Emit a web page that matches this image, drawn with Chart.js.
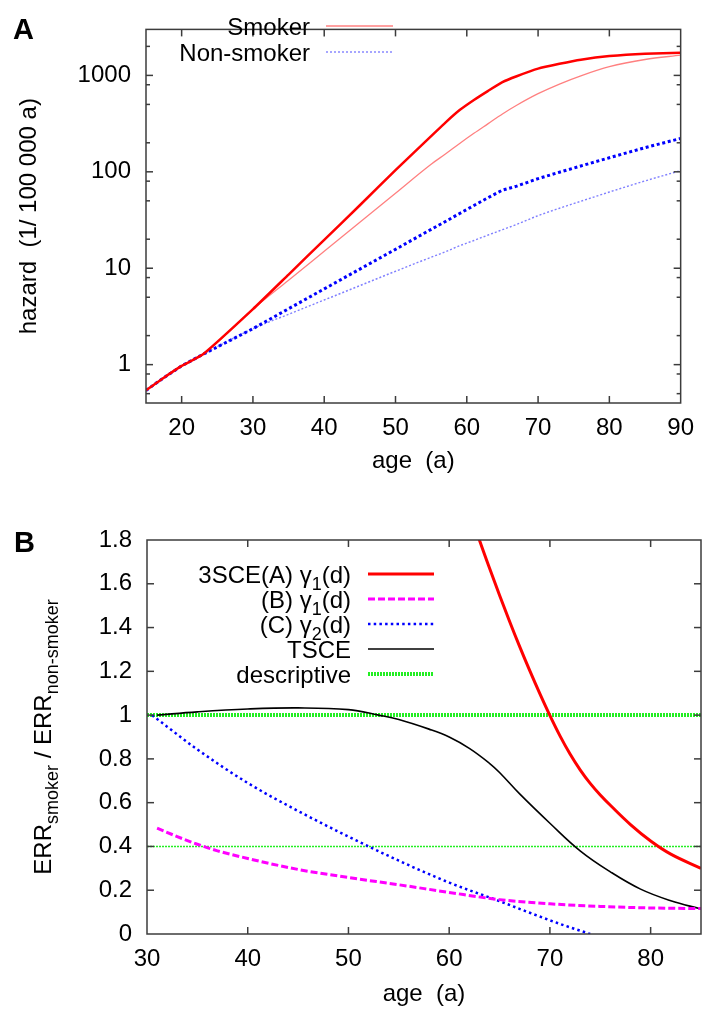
<!DOCTYPE html>
<html>
<head>
<meta charset="utf-8">
<script src="https://cdn.jsdelivr.net/npm/chart.js@4.4.0/dist/chart.umd.min.js"></script>
<style>
  html, body { margin: 0; padding: 0; background: #fff; }
  #wrapA { position: absolute; left: 0; top: 0; width: 705px; height: 490px; }
  #wrapB { position: absolute; left: 0; top: 490px; width: 705px; height: 522px; }
</style>
</head>
<body>
<div id="wrapA"><canvas id="chartA" width="705" height="490"></canvas></div>
<div id="wrapB"><canvas id="chartB" width="705" height="522"></canvas></div>
<script>
// ---- panel A: hazard vs age (log axis) ----
const ageA = [15, 17, 20, 23, 30, 35, 40, 45, 50, 55, 57, 59, 61, 63, 65, 67, 70, 73, 76, 80, 85, 90];
const smokerThick = [0.54, 0.69, 0.97, 1.28, 3.76, 8.6, 19.7, 45, 104, 234, 324, 437, 556, 692, 851, 980, 1175, 1318, 1455, 1585, 1680, 1720];
const smokerThin = [0.54, 0.69, 0.97, 1.28, 3.76, 7.5, 15, 30, 60, 120, 153, 197, 251, 316, 398, 490, 646, 813, 989, 1230, 1462, 1622];
const nonSmokerThick = [0.54, 0.69, 0.97, 1.28, 2.36, 3.8, 6.1, 9.8, 15.7, 25.3, 30.5, 37, 44.7, 54, 64.6, 71, 85, 99, 115, 140, 178, 222];
const nonSmokerThin = [0.54, 0.69, 0.97, 1.28, 2.36, 3.33, 4.68, 6.6, 9.3, 13, 14.8, 17.1, 19.4, 22.1, 25.1, 28.5, 35.1, 41.9, 49.5, 61.7, 80.4, 103];
const xTicksA = [20, 30, 40, 50, 60, 70, 80, 90];
const yTicksA = [1, 10, 100, 1000];
const yMinorA = [0.5, 0.8, 2, 5, 8, 20, 50, 80, 200, 500, 800, 2000];
const keyA = ['Smoker', 'Non-smoker'];

// ---- panel B: ERR ratio vs age ----
const ageRed = [62, 63, 64, 65, 66, 67, 68, 69, 70, 71, 72, 73, 74, 75, 76, 78, 80, 82, 85];
const sce3A = [1.935, 1.80, 1.672, 1.548, 1.428, 1.313, 1.203, 1.098, 0.998, 0.905, 0.822, 0.75, 0.688, 0.635, 0.588, 0.50, 0.425, 0.365, 0.30];
const ageMag = [31, 33, 35, 37, 40, 45, 50, 55, 60, 65, 70, 75, 80, 85];
const sceB = [0.484, 0.445, 0.41, 0.38, 0.345, 0.295, 0.258, 0.225, 0.19, 0.157, 0.138, 0.126, 0.119, 0.116];
const ageBlue = [30.5, 32, 35, 40, 45, 50, 55, 60, 65, 68, 71, 74];
const sceC = [1.0, 0.947, 0.843, 0.69, 0.562, 0.445, 0.335, 0.235, 0.15, 0.097, 0.046, 0.0];
const ageTsce = [31, 35, 40, 45, 50, 53, 55, 58, 60, 62, 64, 65, 67, 70, 73, 76, 79, 82, 85];
const tsce = [1.0, 1.015, 1.028, 1.033, 1.025, 1.0, 0.98, 0.936, 0.9, 0.848, 0.78, 0.738, 0.64, 0.506, 0.38, 0.284, 0.205, 0.152, 0.114];
const ageDesc = [30, 85];
const descHigh = [1, 1];
const descLow = [0.4, 0.4];
const xTicksB = [30, 40, 50, 60, 70, 80];
const yTicksB = [0, 0.2, 0.4, 0.6, 0.8, 1, 1.2, 1.4, 1.6, 1.8];
const keyB = ['3SCE(A) γ_1(d)', '(B) γ_1(d)', '(C) γ_2(d)', 'TSCE', 'descriptive'];

const FONT = '"Liberation Sans", Arial, Helvetica, sans-serif';
Chart.defaults.font.family = FONT;
Chart.defaults.font.size = 24;
Chart.defaults.color = '#000';

function pts(xs, ys) {
  return xs.map((x, i) => ({ x: x, y: ys[i] }));
}

// gnuplot-ish "_x" / "_{xyz}" subscripts
function parseRich(s) {
  const out = [];
  let last = 0;
  s.replace(/_\{([^}]*)\}|_(.)/g, (m, a, b, idx) => {
    if (idx > last) out.push({ t: s.slice(last, idx) });
    out.push({ t: a !== undefined ? a : b, sub: true });
    last = idx + m.length;
    return m;
  });
  if (last < s.length) out.push({ t: s.slice(last) });
  return out;
}
function richWidth(ctx, parts, size) {
  let w = 0;
  parts.forEach(p => {
    ctx.font = (p.sub ? Math.round(size * 0.75) : size) + 'px ' + FONT;
    w += ctx.measureText(p.t).width;
  });
  return w;
}
function drawRich(ctx, parts, x, y, size) {
  parts.forEach(p => {
    ctx.font = (p.sub ? Math.round(size * 0.75) : size) + 'px ' + FONT;
    ctx.fillText(p.t, x, y + (p.sub ? 7 : 0));
    x += ctx.measureText(p.t).width;
  });
}

const frame = {
  id: 'frame',
  afterDraw(chart, args, o) {
    const { ctx, chartArea: a } = chart;
    const xs = chart.scales.x, ys = chart.scales.y;
    ctx.save();
    ctx.strokeStyle = '#3c3c3c';
    ctx.lineWidth = 1.5;
    const seg = (x0, y0, x1, y1) => { ctx.beginPath(); ctx.moveTo(x0, y0); ctx.lineTo(x1, y1); ctx.stroke(); };
    o.xMajor.forEach(v => {
      const p = xs.getPixelForValue(v);
      seg(p, a.bottom, p, a.bottom - 7);
      seg(p, a.top, p, a.top + 7);
    });
    o.yMajor.forEach(v => {
      const p = ys.getPixelForValue(v);
      seg(a.left, p, a.left + 7, p);
      seg(a.right, p, a.right - 7, p);
    });
    (o.yMinor || []).forEach(v => {
      const p = ys.getPixelForValue(v);
      seg(a.left, p, a.left + 4, p);
      seg(a.right, p, a.right - 4, p);
    });
    ctx.strokeRect(a.left, a.top, a.right - a.left, a.bottom - a.top);

    // key, gnuplot style: text right aligned, sample to the right
    ctx.fillStyle = '#000';
    ctx.textBaseline = 'alphabetic';
    ctx.textAlign = 'left';
    o.key.forEach((k, i) => {
      const y = o.keyY + i * o.keyStep;
      const parts = parseRich(k.text);
      drawRich(ctx, parts, o.keyTextRight - richWidth(ctx, parts, 24), y + 8.5, 24);
      ctx.save();
      ctx.strokeStyle = k.color;
      ctx.lineWidth = k.width;
      ctx.setLineDash(k.dash || []);
      seg(o.keyLine[0], y, o.keyLine[1], y);
      ctx.restore();
    });

    // rotated y title with subscripts
    if (o.yTitle) {
      const parts = parseRich(o.yTitle.text);
      const w = richWidth(ctx, parts, 24);
      ctx.save();
      ctx.translate(o.yTitle.x, o.yTitle.y);
      ctx.rotate(-Math.PI / 2);
      drawRich(ctx, parts, -w / 2, 0, 24);
      ctx.restore();
    }

    ctx.font = 'bold 29px ' + FONT;
    ctx.fillText(o.letter, o.letterX, o.letterY);
    ctx.restore();
  }
};

// ---------- chart A ----------
new Chart(document.getElementById('chartA'), {
  type: 'line',
  data: {
    datasets: [
      { data: pts(ageA, smokerThick), borderColor: '#ff0000', borderWidth: 2.5, tension: 0.15 },
      { data: pts(ageA, smokerThin), borderColor: '#ff8080', borderWidth: 1.3, cubicInterpolationMode: 'monotone' },
      { data: pts(ageA, nonSmokerThick), borderColor: '#0000ff', borderWidth: 3, borderDash: [3, 2.7], tension: 0 },
      { data: pts(ageA, nonSmokerThin), borderColor: '#8080ff', borderWidth: 1.4, borderDash: [2, 2], cubicInterpolationMode: 'monotone' }
    ]
  },
  options: {
    responsive: false,
    animation: false,
    layout: { padding: { top: 8, right: 20, left: 0, bottom: 0 } },
    elements: { point: { radius: 0 }, line: { fill: false } },
    plugins: {
      legend: { display: false },
      tooltip: { enabled: false },
      frame: {
        xMajor: xTicksA.slice(0, -1), yMajor: yTicksA, yMinor: yMinorA,
        key: [
          { text: keyA[0], color: '#ff8080', width: 1.3 },
          { text: keyA[1], color: '#8080ff', width: 1.4, dash: [2, 2] }
        ],
        keyY: 26, keyStep: 26, keyTextRight: 310, keyLine: [326, 393],
        letter: 'A', letterX: 13, letterY: 39
      }
    },
    scales: {
      x: {
        type: 'linear', min: 15, max: 90,
        grid: { display: false, drawTicks: false }, border: { display: false },
        afterBuildTicks: s => { s.ticks = xTicksA.map(v => ({ value: v })); },
        afterFit: s => { s.height = 87; },
        ticks: { padding: 11, autoSkip: false, maxRotation: 0, callback: v => String(v) },
        title: { display: true, text: 'age  (a)', padding: { top: 0, bottom: 14 } }
      },
      y: {
        type: 'logarithmic', min: 0.4, max: 3000,
        grid: { display: false, drawTicks: false }, border: { display: false },
        afterBuildTicks: s => { s.ticks = yTicksA.map(v => ({ value: v })); },
        afterFit: s => { s.width = 146; },
        ticks: { padding: 15, autoSkip: false, callback: v => String(v) },
        title: { display: true, text: 'hazard  (1/ 100 000 a)', padding: { top: 15, bottom: 0 } }
      }
    }
  },
  plugins: [frame]
});

// ---------- chart B ----------
new Chart(document.getElementById('chartB'), {
  type: 'line',
  data: {
    datasets: [
      { data: pts(ageRed, sce3A), borderColor: '#ff0000', borderWidth: 3, tension: 0.4, clip: 0 },
      { data: pts(ageMag, sceB), borderColor: '#ff00ff', borderWidth: 3, borderDash: [7, 3], cubicInterpolationMode: 'monotone' },
      { data: pts(ageBlue, sceC), borderColor: '#0000ff', borderWidth: 2.5, borderDash: [2.5, 3.2], cubicInterpolationMode: 'monotone' },
      { data: pts(ageTsce, tsce), borderColor: '#000000', borderWidth: 1.6, tension: 0.4 },
      { data: pts(ageDesc, descHigh), borderColor: '#22ee22', borderWidth: 4, borderDash: [2, 1], clip: 0 },
      { data: pts(ageDesc, descLow), borderColor: '#22ee22', borderWidth: 1.6, borderDash: [2, 1], clip: 0 }
    ]
  },
  options: {
    responsive: false,
    animation: false,
    layout: { padding: { top: 50, right: 4, left: 0, bottom: 0 } },
    elements: { point: { radius: 0 }, line: { fill: false } },
    plugins: {
      legend: { display: false },
      tooltip: { enabled: false },
      frame: {
        xMajor: xTicksB.slice(1), yMajor: yTicksB.slice(1, -1),
        key: [
          { text: keyB[0], color: '#ff0000', width: 3 },
          { text: keyB[1], color: '#ff00ff', width: 3, dash: [7, 3] },
          { text: keyB[2], color: '#0000ff', width: 2.5, dash: [2.5, 3.2] },
          { text: keyB[3], color: '#000000', width: 1.6 },
          { text: keyB[4], color: '#22ee22', width: 4, dash: [2, 1] }
        ],
        keyY: 84, keyStep: 25, keyTextRight: 351, keyLine: [368, 434],
        yTitle: { text: 'ERR_{smoker} / ERR_{non-smoker}', x: 51, y: 247 },
        letter: 'B', letterX: 14, letterY: 62
      }
    },
    scales: {
      x: {
        type: 'linear', min: 30, max: 85,
        grid: { display: false, drawTicks: false }, border: { display: false },
        afterBuildTicks: s => { s.ticks = xTicksB.map(v => ({ value: v })); },
        afterFit: s => { s.height = 78; },
        ticks: { padding: 11, autoSkip: false, maxRotation: 0, callback: v => String(v) },
        title: { display: true, text: 'age  (a)', padding: { top: 0, bottom: 3 } }
      },
      y: {
        type: 'linear', min: 0, max: 1.8,
        grid: { display: false, drawTicks: false }, border: { display: false },
        afterBuildTicks: s => { s.ticks = yTicksB.map(v => ({ value: v })); },
        afterFit: s => { s.width = 147; },
        ticks: { padding: 15, autoSkip: false, callback: v => String(Math.round(v * 10) / 10) }
      }
    }
  },
  plugins: [frame]
});
</script>
</body>
</html>
